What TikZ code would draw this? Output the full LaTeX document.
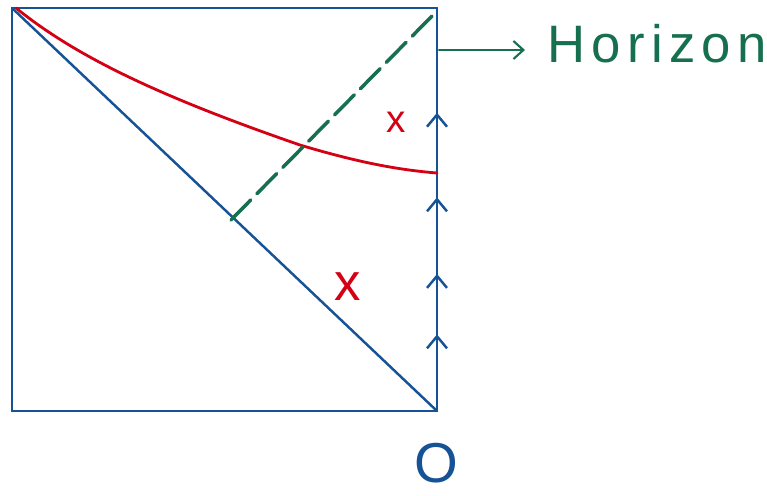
\documentclass[tikz,border=0pt]{standalone}
\usepackage{fontspec}
\setmainfont{Liberation Sans}
\newfontfamily\handfont[LetterSpace=12]{Liberation Sans}
\usetikzlibrary{arrows.meta,positioning,decorations.markings}
\definecolor{penblue}{RGB}{22,82,150}
\definecolor{penred}{RGB}{212,0,20}
\definecolor{pengreen}{RGB}{22,112,80}
\begin{document}
\begin{tikzpicture}[x=0.02cm,y=-0.02cm,line cap=round,line join=round,
  edge/.style={penblue,line width=1.4pt},
  flow/.style={edge,postaction={decorate},decoration={markings,
    mark=at position 0.19 with {\arrow{Straight Barb[length=2.4mm,width=4mm,line width=1.4pt]}},
    mark=at position 0.34 with {\arrow{Straight Barb[length=2.4mm,width=4mm,line width=1.4pt]}},
    mark=at position 0.53 with {\arrow{Straight Barb[length=2.4mm,width=4mm,line width=1.4pt]}},
    mark=at position 0.74 with {\arrow{Straight Barb[length=2.4mm,width=4mm,line width=1.4pt]}}}},
  cross/.style={penred,font=\fontsize{22}{22}\selectfont},
  arr/.style={-{Straight Barb[length=2mm,width=3.6mm]},pengreen,line width=1.2pt}]
\useasboundingbox (0,0) rectangle (767,495);
\coordinate (tl) at (12,8);
\coordinate (tr) at (437,8);
\coordinate (bl) at (12,411);
\coordinate (br) at (437,411);
\draw[edge] (bl)--(tl)--(tr);
\draw[edge] (bl)--(br);
\draw[flow] (br)--(tr);
\draw[edge] (tl)--(br);
% bent line from the corner
\draw[penred,line width=1.6pt] (16,8) .. controls (80,60) and (170,100) .. (300,145)
  .. controls (360,163) and (400,170) .. (437,173);
\coordinate (hz1) at (231,220);
\coordinate (hz2) at (432,16);
\draw[pengreen,line width=2pt,dash pattern=on 16pt off 5pt] (hz1)--(hz2);
\coordinate (hzfoot) at (439,50);
\node[pengreen,anchor=base west,inner sep=4pt,font=\handfont\fontsize{30}{30}\selectfont] (hz) at (540,62) {Horizon};
\draw[arr,shorten >=0.3cm] (hzfoot)--(hzfoot -| hz.west);
\node[cross] (m1) at (396,122) {x};
\node[cross,font=\fontsize{30}{30}\selectfont] (m2) at (348,287) {x};
\node[penblue,inner sep=0pt,anchor=base,font=\fontsize{32}{32}\selectfont] (o) at (436,482) {O};
\end{tikzpicture}
\end{document}
